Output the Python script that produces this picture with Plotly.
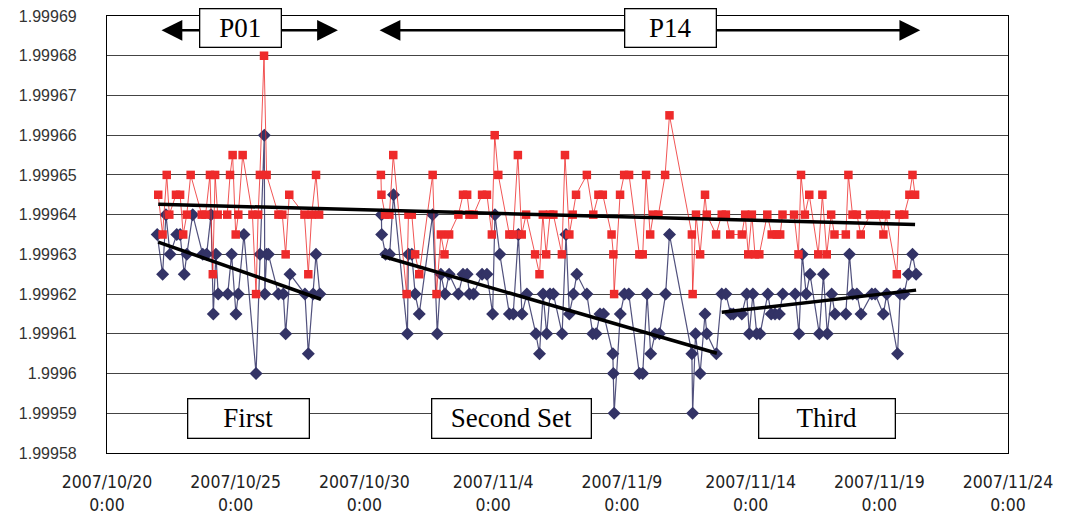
import pandas as pd
import plotly.graph_objects as go

START = pd.Timestamp("2007-10-20")

# ---- data (day offsets from 2007/10/20 0:00, values) ----
p01_red_day = [1.99, 2.16, 2.32, 2.42, 2.68, 2.84, 2.96, 3.10, 3.25, 3.68, 3.83, 4.00, 4.11, 4.20,
               4.30, 4.67, 4.78, 4.88, 5.00, 5.10, 5.27, 5.65, 5.79, 5.87, 5.94, 6.10, 6.20, 6.66,
               6.81, 6.94, 7.08, 7.67, 7.82, 7.95, 8.12, 8.24]
p01_red_val = [1.999645, 1.999635, 1.99965, 1.99964, 1.999645, 1.999645, 1.999635, 1.99964, 1.99965,
               1.99964, 1.99964, 1.99965, 1.999625, 1.99965, 1.99964, 1.99964, 1.99965, 1.999655,
               1.999635, 1.99964, 1.999655, 1.99964, 1.99962, 1.99964, 1.99965, 1.99968, 1.99965,
               1.99964, 1.99964, 1.99963, 1.999645, 1.99964, 1.999625, 1.99964, 1.99965, 1.99964]

p01_blue_day = [1.95, 2.16, 2.29, 2.45, 2.71, 2.84, 3.00, 3.10, 3.33, 3.72, 3.87, 4.04, 4.13, 4.23,
                4.32, 4.69, 4.84, 5.01, 5.10, 5.32, 5.79, 5.94, 6.11, 6.13, 6.20, 6.27, 6.66, 6.85,
                6.94, 7.11, 7.69, 7.82, 8.01, 8.12, 8.27]
p01_blue_val = [1.999635, 1.999625, 1.99964, 1.99963, 1.999635, 1.999635, 1.999625, 1.99963, 1.99964,
                1.99963, 1.99963, 1.99964, 1.999615, 1.99963, 1.99962, 1.99962, 1.99963, 1.999615,
                1.99962, 1.999635, 1.9996, 1.99963, 1.99966, 1.99962, 1.99963, 1.99963, 1.99962,
                1.99962, 1.99961, 1.999625, 1.99962, 1.999605, 1.99962, 1.99963, 1.99962]

p14_red_day = [10.64, 10.66, 10.80, 10.97, 11.12, 11.64, 11.71, 11.84, 11.97, 12.13, 12.65, 12.80,
               12.97, 13.11, 13.29, 13.65, 13.83, 13.99, 14.08, 14.24, 14.57, 14.76, 14.95, 15.06,
               15.20, 15.63, 15.78, 15.96, 16.11, 16.28, 16.63, 16.80, 16.93, 17.06, 17.21, 17.34,
               17.67, 17.79, 17.96, 18.09, 18.22, 18.64, 18.89, 19.09, 19.26, 19.60, 19.67, 19.70,
               19.93, 20.09, 20.28, 20.68, 20.81, 20.94, 21.10, 21.22, 21.42, 21.68, 21.85, 22.72,
               22.75, 22.88, 23.04, 23.23, 23.30, 23.66, 23.88, 24.04, 24.21, 24.66, 24.79, 24.91,
               25.05, 25.17, 25.34, 25.65, 25.82, 26.02, 26.15, 26.24, 26.69, 26.86, 26.96, 27.11,
               27.28, 27.63, 27.79, 27.96, 28.13, 28.26, 28.70, 28.80, 28.96, 29.13, 29.28, 29.64,
               29.81, 29.97, 30.16, 30.26, 30.68, 30.78, 30.97, 31.17, 31.29, 31.39]
p14_red_val = [1.99965, 1.999645, 1.99964, 1.99964, 1.999655, 1.99962, 1.99964, 1.99964, 1.99963,
               1.999625, 1.99965, 1.99962, 1.999635, 1.99963, 1.999635, 1.99964, 1.999645, 1.999645,
               1.99964, 1.99964, 1.999645, 1.999645, 1.999635, 1.99966, 1.99965, 1.999635, 1.999635,
               1.999655, 1.999635, 1.99964, 1.99963, 1.999625, 1.99964, 1.99963, 1.99964, 1.99964,
               1.99963, 1.999655, 1.999635, 1.99964, 1.999645, 1.99965, 1.99964, 1.999645, 1.999645,
               1.999635, 1.99963, 1.99962, 1.999645, 1.99965, 1.99965, 1.99963, 1.99963, 1.99965,
               1.999635, 1.99964, 1.99964, 1.99965, 1.999665, 1.999635, 1.99962, 1.99964, 1.99963,
               1.999645, 1.99964, 1.999635, 1.99964, 1.99964, 1.999635, 1.999635, 1.99964, 1.99963,
               1.99964, 1.99963, 1.99963, 1.99964, 1.999635, 1.999635, 1.999635, 1.99964, 1.99964,
               1.99963, 1.99965, 1.99964, 1.999645, 1.99963, 1.999645, 1.99963, 1.99964, 1.999635,
               1.999635, 1.99965, 1.99964, 1.99964, 1.999635, 1.99964, 1.99964, 1.99964, 1.999635,
               1.99964, 1.999625, 1.99964, 1.99964, 1.999645, 1.99965, 1.999645]

p14_blue_day = [10.66, 10.67, 10.82, 10.98, 11.13, 11.67, 11.71, 11.84, 11.97, 12.13, 12.65, 12.83,
                12.97, 13.13, 13.29, 13.65, 13.83, 13.99, 14.08, 14.24, 14.57, 14.76, 14.98, 15.07,
                15.26, 15.63, 15.78, 15.98, 16.12, 16.31, 16.66, 16.80, 16.94, 17.08, 17.21, 17.34,
                17.68, 17.83, 17.96, 18.12, 18.25, 18.64, 18.87, 19.00, 19.15, 19.29, 19.65, 19.67,
                19.70, 19.94, 20.10, 20.27, 20.68, 20.81, 20.98, 21.12, 21.29, 21.46, 21.70, 21.85,
                22.72, 22.75, 22.86, 23.04, 23.23, 23.30, 23.67, 23.88, 24.04, 24.23, 24.33, 24.66,
                24.85, 24.95, 25.09, 25.24, 25.37, 25.67, 25.80, 25.95, 26.12, 26.25, 26.73, 26.88,
                27.01, 27.16, 27.31, 27.67, 27.83, 27.98, 28.15, 28.28, 28.70, 28.84, 28.97, 29.13,
                29.29, 29.71, 29.84, 30.16, 30.29, 30.71, 30.81, 30.96, 31.13, 31.29, 31.43]
p14_blue_val = [1.99964, 1.999635, 1.99963, 1.99963, 1.999645, 1.99961, 1.99963, 1.99963, 1.99962,
                1.999615, 1.99964, 1.99961, 1.999625, 1.99962, 1.999625, 1.99962, 1.999625, 1.999625,
                1.99962, 1.99962, 1.999625, 1.999625, 1.999615, 1.99964, 1.99963, 1.999615, 1.999615,
                1.999635, 1.999615, 1.99962, 1.99961, 1.999605, 1.99962, 1.99961, 1.99962, 1.99962,
                1.99961, 1.999635, 1.999615, 1.99962, 1.999625, 1.99962, 1.99961, 1.99961, 1.999615,
                1.999615, 1.999605, 1.9996, 1.99959, 1.999615, 1.99962, 1.99962, 1.9996, 1.9996,
                1.99962, 1.999605, 1.99961, 1.99961, 1.99962, 1.999635, 1.999605, 1.99959, 1.99961,
                1.9996, 1.999615, 1.99961, 1.999605, 1.99962, 1.99962, 1.999615, 1.999615, 1.999615,
                1.99962, 1.99961, 1.99962, 1.99961, 1.99961, 1.99962, 1.999615, 1.999615, 1.999615,
                1.99962, 1.99962, 1.99961, 1.99963, 1.99962, 1.999625, 1.99961, 1.999625, 1.99961,
                1.99962, 1.999615, 1.999615, 1.99963, 1.99962, 1.99962, 1.999615, 1.99962, 1.99962,
                1.999615, 1.99962, 1.999605, 1.99962, 1.99962, 1.999625, 1.99963, 1.999625]

# trend lines (start / end)
trend_red_day = [1.99, 31.39]
trend_red_val = [1.9996426, 1.9996375]
trend_first_day = [1.99, 8.31]
trend_first_val = [1.9996331, 1.9996187]
trend_second_day = [10.67, 23.69]
trend_second_val = [1.9996296, 1.9996051]
trend_third_day = [23.88, 31.43]
trend_third_val = [1.9996154, 1.999621]

# period arrows (day offsets)
p01_span = [2.06, 8.97]
p14_span = [10.53, 31.59]
arrow_val = 1.9996864

x_tick_days = [0, 5, 10, 15, 20, 25, 30, 35]
x_tick_text = ["2007/10/20<br>0:00", "2007/10/25<br>0:00", "2007/10/30<br>0:00", "2007/11/4<br>0:00",
               "2007/11/9<br>0:00", "2007/11/14<br>0:00", "2007/11/19<br>0:00", "2007/11/24<br>0:00"]
y_tick_vals = [1.99958, 1.99959, 1.9996, 1.99961, 1.99962, 1.99963, 1.99964, 1.99965, 1.99966,
               1.99967, 1.99968, 1.99969]
y_tick_text = ["1.99958", "1.99959", "1.9996", "1.99961", "1.99962", "1.99963", "1.99964", "1.99965",
               "1.99966", "1.99967", "1.99968", "1.99969"]
y_min, y_max = 1.99958, 1.99969


def to_dt(days):
    return [START + pd.to_timedelta(d, unit="D") for d in days]


RED = "#EE2A2A"
NAVY = "#333366"

fig = go.Figure()

for days, vals in [(p01_blue_day, p01_blue_val), (p14_blue_day, p14_blue_val)]:
    fig.add_trace(go.Scatter(x=to_dt(days), y=vals, mode="lines+markers",
                             line=dict(color="rgba(51,51,102,0.85)", width=1.2),
                             marker=dict(symbol="diamond", size=10, color=NAVY),
                             showlegend=False))
for days, vals in [(p01_red_day, p01_red_val), (p14_red_day, p14_red_val)]:
    fig.add_trace(go.Scatter(x=to_dt(days), y=vals, mode="lines+markers",
                             line=dict(color="rgba(238,42,42,0.8)", width=1),
                             marker=dict(symbol="square", size=8.5, color=RED),
                             showlegend=False))
for days, vals in [(trend_red_day, trend_red_val), (trend_first_day, trend_first_val),
                   (trend_second_day, trend_second_val), (trend_third_day, trend_third_val)]:
    fig.add_trace(go.Scatter(x=to_dt(days), y=vals, mode="lines",
                             line=dict(color="black", width=3.5), showlegend=False))

annotations = []
for span in [p01_span, p14_span]:
    a, b = to_dt(span)
    annotations.append(dict(x=b, y=arrow_val, ax=a, ay=arrow_val, xref="x", yref="y",
                            axref="x", ayref="y", text="", showarrow=True, arrowhead=2,
                            arrowside="end+start", arrowsize=1.6, arrowwidth=2.6,
                            arrowcolor="black", standoff=0, startstandoff=0))

SERIF = "Liberation Serif, Times New Roman, serif"
boxes = [("P01", 0.1487, 0.973, 80, 37), ("P14", 0.6249, 0.973, 90, 37),
         ("First", 0.1576, 0.080, 120, 38), ("Second Set", 0.4495, 0.080, 158, 38),
         ("Third", 0.7986, 0.080, 135, 38)]
for txt, px, py, w, h in boxes:
    annotations.append(dict(x=px, y=py, xref="paper", yref="paper", text=txt, showarrow=False,
                            width=w, height=h, bgcolor="white", bordercolor="black",
                            borderwidth=1.3, borderpad=0, xanchor="center", yanchor="middle",
                            font=dict(family=SERIF, size=27, color="black")))

# page body has an 8px default margin, so the figure is offset by 8px
fig.update_layout(
    width=1079, height=514,
    margin=dict(l=99, r=79, t=8, b=69, autoexpand=False),
    paper_bgcolor="white", plot_bgcolor="white",
    annotations=annotations,
    showlegend=False,
)
fig.update_xaxes(
    type="date",
    range=[START, START + pd.Timedelta(days=35)],
    tickvals=to_dt(x_tick_days), ticktext=x_tick_text,
    showgrid=False, showline=True, linecolor="black", linewidth=1.2, mirror=True,
    ticks="", ticklabelstandoff=13, ticklabeloverflow="allow",
    tickfont=dict(family="Liberation Sans Narrow, DejaVu Sans Condensed, Liberation Sans, sans-serif",
                  size=17.5, color="#222"),
)
fig.update_yaxes(
    range=[y_min - 1e-9, y_max + 1e-9],
    tickvals=y_tick_vals, ticktext=y_tick_text,
    showgrid=True, gridcolor="#444", gridwidth=1,
    showline=True, linecolor="black", linewidth=1.2, mirror=True,
    ticks="", ticklabelstandoff=26, ticklabeloverflow="allow", zeroline=False,
    tickfont=dict(family="Liberation Sans, Arial, sans-serif", size=16, color="#333"),
)

fig.write_html("out.html")
